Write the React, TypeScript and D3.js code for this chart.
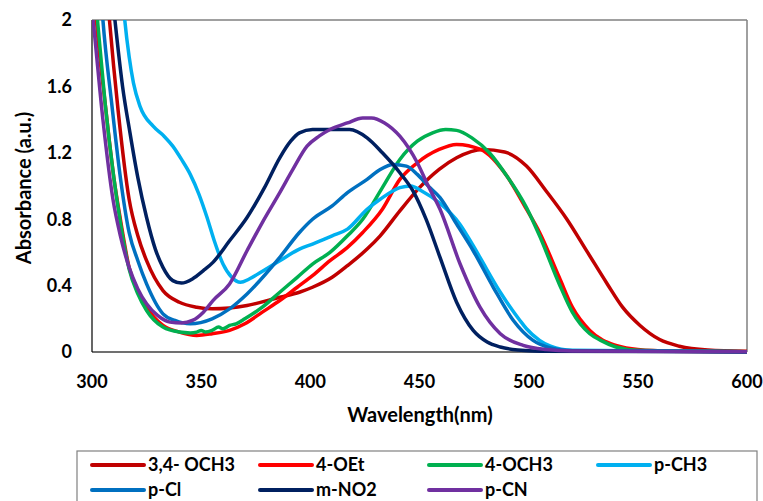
import React from "react";
import * as d3 from "d3";

const seriesNames = ["3,4- OCH3", "4-OEt", "4-OCH3", "p-CH3", "p-Cl", "m-NO2", "p-CN"];
const seriesColors = ["#C00000", "#FF0000", "#00B050", "#00B0F0", "#0070C0", "#002060", "#7030A0"];

const s34OCH3: [number, number][] = [[305,2.5],[308,2.0],[312,1.45],[317,0.92],[321,0.7],[325,0.55],[332.5,0.37],[340,0.3],[348,0.27],[355,0.26],[363,0.265],[371,0.28],[386,0.33],[395,0.36],[401,0.39],[410,0.45],[417,0.52],[426,0.62],[432,0.7],[441,0.85],[450,0.99],[459,1.1],[467,1.17],[479,1.22],[489,1.205],[499,1.12],[508,0.97],[517.5,0.8],[527,0.6],[536,0.41],[543,0.27],[551,0.16],[560,0.075],[569,0.035],[582,0.012],[600,0.004]];
const s4OEt: [number, number][] = [[300,2.4],[302,2.0],[306,1.5],[310,1.05],[313,0.8],[317,0.51],[321,0.37],[325,0.27],[332.5,0.16],[340,0.12],[348,0.1],[355,0.11],[363,0.13],[370,0.17],[378,0.24],[386,0.31],[394,0.39],[401,0.46],[409,0.55],[417,0.63],[424,0.72],[433,0.86],[441,1.04],[449,1.14],[459,1.22],[467,1.25],[478,1.22],[490,1.06],[499,0.86],[505,0.72],[514,0.45],[520,0.27],[528,0.13],[534,0.07],[540,0.04],[550,0.015],[565,0.005],[600,0.002]];
const s4OCH3: [number, number][] = [[300,2.3],[302.5,2.0],[306,1.5],[310,1.05],[313,0.78],[317,0.5],[321,0.35],[325,0.25],[332.5,0.15],[340,0.12],[345,0.115],[348,0.12],[350,0.13],[352,0.12],[355,0.13],[358,0.15],[360,0.14],[363,0.16],[366,0.17],[370,0.2],[378,0.27],[386,0.36],[394,0.45],[401,0.53],[409,0.6],[417,0.7],[424,0.8],[433,0.99],[441,1.16],[449,1.27],[456,1.32],[462,1.34],[467,1.335],[474,1.29],[482,1.2],[490,1.06],[499,0.87],[505,0.7],[514,0.41],[520,0.24],[528,0.11],[533,0.07],[540,0.03],[550,0.01],[600,0.002]];
const sPCH3: [number, number][] = [[312,2.5],[315,2.0],[317,1.78],[319,1.62],[322,1.48],[328,1.36],[333,1.3],[337,1.24],[341,1.16],[345,1.07],[349,0.95],[352.7,0.81],[356,0.67],[360,0.53],[364,0.45],[368,0.42],[372,0.44],[376,0.47],[386,0.55],[395,0.62],[401,0.65],[410,0.7],[417,0.74],[426,0.86],[432,0.92],[441,0.99],[446,1.0],[451,0.97],[459,0.9],[468.5,0.77],[474.6,0.64],[477.7,0.57],[487,0.36],[490,0.3],[496,0.19],[499,0.14],[505,0.07],[510,0.035],[520,0.01],[600,0.002]];
const sPCl: [number, number][] = [[302,2.6],[305,2.0],[309,1.5],[313,1.05],[317,0.72],[321,0.55],[325,0.41],[332.5,0.23],[338,0.19],[345,0.17],[355,0.2],[363,0.26],[371,0.35],[386,0.57],[395,0.72],[401,0.8],[410,0.88],[417,0.96],[426,1.04],[432,1.1],[438,1.13],[444,1.12],[449,1.07],[454,1.0],[459.4,0.93],[467,0.77],[474.6,0.61],[483.8,0.39],[493,0.19],[502,0.07],[510,0.025],[520,0.008],[600,0.002]];
const sMNO2: [number, number][] = [[306,2.6],[310.5,2.0],[314,1.6],[317.4,1.32],[321,1.05],[325,0.81],[329,0.62],[332.5,0.51],[337,0.43],[341,0.415],[346,0.44],[351,0.49],[355.4,0.54],[363,0.67],[371,0.81],[379,0.99],[386,1.17],[391,1.27],[395,1.32],[401,1.34],[410,1.34],[418,1.34],[426,1.29],[433,1.2],[441,1.08],[447,0.97],[453,0.8],[459.4,0.57],[467,0.3],[474.6,0.13],[481,0.06],[487,0.03],[495,0.012],[505,0.005],[600,0.002]];
const sPCN: [number, number][] = [[298,2.3],[300.5,2.0],[305,1.4],[309.6,0.92],[313,0.7],[317,0.51],[321,0.38],[325,0.29],[330,0.22],[335.7,0.18],[341,0.175],[346,0.19],[351,0.24],[355.4,0.31],[363,0.41],[371,0.61],[378,0.78],[386,0.96],[392,1.1],[398.5,1.24],[404,1.3],[409,1.34],[417,1.38],[424,1.41],[428,1.41],[434,1.38],[441,1.3],[449,1.14],[454,1.0],[459.4,0.86],[468.6,0.53],[477.7,0.27],[487,0.11],[497.5,0.04],[508,0.015],[520,0.006],[600,0.002]];

const seriesData = [s34OCH3, s4OEt, s4OCH3, sPCH3, sPCl, sMNO2, sPCN];
const xTicks = [300, 350, 400, 450, 500, 550, 600];
const yTicks = [0, 0.4, 0.8, 1.2, 1.6, 2];

const FONT = "Lato, 'Open Sans', sans-serif";

export default function App() {
  const W = 763, H = 501;
  const L = 92, R = 747, T = 20, B = 352;
  const x = d3.scaleLinear().domain([300, 600]).range([L, R]);
  const y = d3.scaleLinear().domain([0, 2]).range([B, T]);
  const line = d3.line<[number, number]>().x(d => x(d[0])).y(d => y(d[1])).curve(d3.curveMonotoneX);

  const legendCols = [92, 260, 429, 598];
  const legendRows = [465, 490];

  return (
    <svg width={W} height={H} style={{ position: "absolute", left: 0, top: 0, background: "#fff" }}>
      <defs>
        <clipPath id="plotclip">
          <rect x={L} y={T} width={R - L} height={B - T + 3} />
        </clipPath>
      </defs>
      <line x1={L} y1={T} x2={R} y2={T} stroke="#808080" strokeWidth={1.5} />
      <line x1={R} y1={T} x2={R} y2={B} stroke="#808080" strokeWidth={1.5} />
      <line x1={L} y1={B} x2={R} y2={B} stroke="#404040" strokeWidth={1.5} />
      <line x1={L} y1={T} x2={L} y2={B} stroke="#000" strokeWidth={1.2} />
      <g clipPath="url(#plotclip)">
        {seriesData.map((s, i) => (
          <path key={i} d={line(s) || ""} fill="none" stroke={seriesColors[i]} strokeWidth={3.5} strokeLinejoin="round" strokeLinecap="round" />
        ))}
      </g>
      {yTicks.map(t => (
        <text key={t} x={72} y={y(t)} dy="0.36em" textAnchor="end" fontFamily={FONT} fontWeight={700} fontSize={18}>{d3.format("~g")(t)}</text>
      ))}
      {xTicks.map(t => (
        <text key={t} x={x(t)} y={388} textAnchor="middle" fontFamily={FONT} fontWeight={700} fontSize={18}>{t}</text>
      ))}
      <text x={420} y={422} textAnchor="middle" fontFamily={FONT} fontWeight={700} fontSize={20}>Wavelength(nm)</text>
      <text transform={`translate(31,${(T + B) / 2 + 2}) rotate(-90)`} textAnchor="middle" fontFamily={FONT} fontWeight={700} fontSize={20}>Absorbance (a.u.)</text>
      <rect x={77} y={451} width={680} height={60} fill="none" stroke="#808080" strokeWidth={1.2} />
      {seriesNames.map((n, i) => {
        const cx = legendCols[i % 4];
        const cy = legendRows[Math.floor(i / 4)];
        return (
          <g key={n}>
            <line x1={cx} y1={cy} x2={cx + 52} y2={cy} stroke={seriesColors[i]} strokeWidth={4} strokeLinecap="round" />
            <text x={cx + 56} y={cy} dy="0.34em" fontFamily={FONT} fontWeight={700} fontSize={18}>{n}</text>
          </g>
        );
      })}
    </svg>
  );
}
